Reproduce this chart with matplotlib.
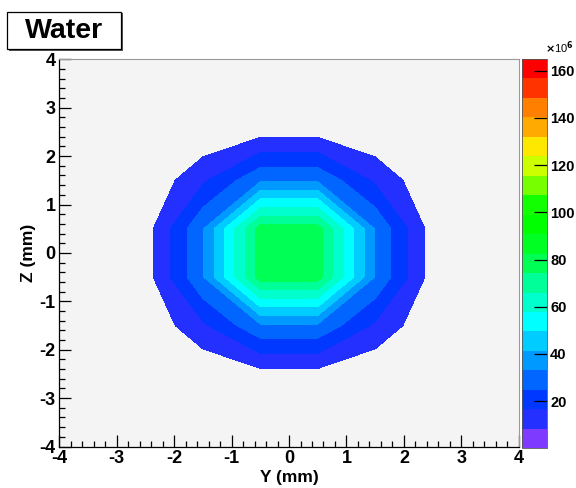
import numpy as np
import matplotlib
matplotlib.use('Agg')
import matplotlib.pyplot as plt
from matplotlib.colors import ListedColormap, BoundaryNorm
from matplotlib.cm import ScalarMappable
from matplotlib.ticker import MultipleLocator
from matplotlib.patches import Rectangle

# bin centres (mm), 8 x 8 bins from -4 to 4
y_centres = [-3.5, -2.5, -1.5, -0.5, 0.5, 1.5, 2.5, 3.5]
z_centres = [-3.5, -2.5, -1.5, -0.5, 0.5, 1.5, 2.5, 3.5]

# bin contents in units of 1e6, one row per Z bin (bottom to top)
row_z_m35 = [0, 0, 0, 0, 0, 0, 0, 0]
row_z_m25 = [0, 0, 1, 5.3, 5.3, 1, 0, 0]
row_z_m15 = [0, 1, 15, 31.6, 31.6, 15, 1, 0]
row_z_m05 = [0, 4.5, 32.4, 78, 78, 32.4, 4.5, 0]
row_z_p05 = [0, 4.5, 32.4, 78, 78, 32.4, 4.5, 0]
row_z_p15 = [0, 1, 15, 31.6, 31.6, 15, 1, 0]
row_z_p25 = [0, 0, 1, 5.3, 5.3, 1, 0, 0]
row_z_p35 = [0, 0, 0, 0, 0, 0, 0, 0]

z_min, z_max, n_levels = 0, 165, 20
cbar_ticks = [20, 40, 60, 80, 100, 120, 140, 160]

# colour of each contour band (bottom to top)
band_colours = ['#7f3aff', '#2430ff', '#0038ff', '#0066ff', '#0099ff',
                '#00ccff', '#00ffff', '#00ffcc', '#00ff99', '#00ff55',
                '#00ff22', '#00ff00', '#11ff00', '#77ff00', '#ccff00',
                '#ffe800', '#ffaa00', '#ff7f00', '#ff3300', '#ff0000']

plt.rcParams['font.family'] = ['Liberation Sans', 'DejaVu Sans']
plt.rcParams['font.weight'] = 'bold'
plt.rcParams['axes.labelweight'] = 'bold'
plt.rcParams['axes.unicode_minus'] = False

grid = np.array([row_z_m35, row_z_m25, row_z_m15, row_z_m05,
                 row_z_p05, row_z_p15, row_z_p25, row_z_p35])
levels = np.linspace(z_min, z_max, n_levels + 1)

fig = plt.figure(figsize=(5.76, 4.88), dpi=100)
ax = fig.add_axes([0.1030, 0.0850, 0.7976, 0.7935])
ax.set_facecolor('#f4f4f4')

# the lowest band is not painted (as in the original)
ax.contourf(y_centres, z_centres, grid, levels=levels[1:], colors=band_colours[1:])

ax.set_xlim(-4, 4)
ax.set_ylim(-4, 4)
ax.xaxis.set_major_locator(MultipleLocator(1))
ax.xaxis.set_minor_locator(MultipleLocator(0.2))
ax.yaxis.set_major_locator(MultipleLocator(1))
ax.yaxis.set_minor_locator(MultipleLocator(0.2))
ax.tick_params(which='both', direction='in', top=False, right=False, width=0.9)
ax.tick_params(which='major', length=8.5, labelsize=13, pad=2.5)
ax.tick_params(which='minor', length=4.3)
for s in ['top', 'right']:
    ax.spines[s].set_color('#999999')
    ax.spines[s].set_linewidth(0.8)
for s in ['bottom', 'left']:
    ax.spines[s].set_linewidth(0.9)
ax.set_xlabel('Y (mm)', fontsize=12.5, labelpad=2)
ax.set_ylabel('Z (mm)', fontsize=12.5, labelpad=3)

# palette
cax = fig.add_axes([0.9057, 0.0814, 0.0444, 0.7977])
cmap = ListedColormap(band_colours)
norm = BoundaryNorm(levels, cmap.N)
cb = fig.colorbar(ScalarMappable(norm=norm, cmap=cmap), cax=cax)
cb.set_ticks(cbar_ticks)
cb.set_ticklabels([str(t) for t in cbar_ticks])
cb.outline.set_linewidth(0.6)
cb.outline.set_edgecolor('#555555')
cax.tick_params(direction='in', length=9.4, width=0.9, labelsize=10.5, pad=2)
cax.minorticks_off()
fig.text(0.947, 0.886, r'$\times$10$^{6}$', fontsize=8, fontweight='normal',
         ha='left', va='bottom')

# title box
fig.patches.append(Rectangle((0.0155, 0.896), 0.1974, 0.077, transform=fig.transFigure,
                             facecolor='#555555', edgecolor='none', zorder=1))
fig.patches.append(Rectangle((0.0127, 0.899), 0.1974, 0.077, transform=fig.transFigure,
                             facecolor='white', edgecolor='black', linewidth=0.9, zorder=2))
fig.text(0.111, 0.9375, 'Water', fontsize=20.5, fontweight='bold', ha='center', va='center',
         zorder=3)

fig.savefig('out.png', dpi=100)
